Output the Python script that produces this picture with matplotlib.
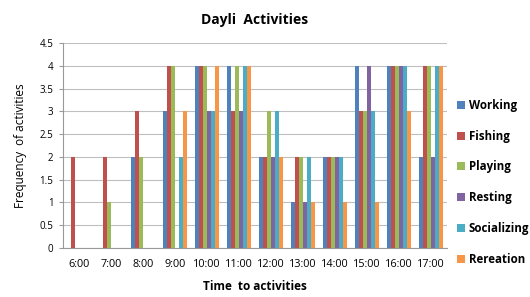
import numpy as np
import matplotlib.pyplot as plt

times = ['6:00', '7:00', '8:00', '9:00', '10:00', '11:00', '12:00',
         '13:00', '14:00', '15:00', '16:00', '17:00']
working     = [0, 0, 2, 3, 4, 4, 2, 1, 2, 4, 4, 2]
fishing     = [2, 2, 3, 4, 4, 3, 2, 2, 2, 3, 4, 4]
playing     = [0, 1, 2, 4, 4, 4, 3, 2, 2, 3, 4, 4]
resting     = [0, 0, 0, 0, 3, 3, 2, 1, 2, 4, 4, 2]
socializing = [0, 0, 0, 2, 3, 4, 3, 2, 2, 3, 4, 4]
rereation   = [0, 0, 0, 3, 4, 4, 2, 1, 1, 1, 3, 4]

series = [('Working', working), ('Fishing', fishing), ('Playing', playing),
          ('Resting', resting), ('Socializing', socializing), ('Rereation', rereation)]
colors = ['#4F81BD', '#C0504D', '#9BBB59', '#8064A2', '#4BACC6', '#F79646']

plt.rcParams['font.family'] = ['Open Sans', 'DejaVu Sans']

fig = plt.figure(figsize=(5.3, 2.97), dpi=100)
ax = fig.add_axes([0.119, 0.165, 0.724, 0.69])

x = np.arange(len(times))
w = 0.125
for i, (name, vals) in enumerate(series):
    ax.bar(x + (i - 2.5) * w, vals, width=w, color=colors[i], label=name, zorder=3)

ax.set_xlim(-0.5, len(times) - 0.5)
ax.set_ylim(0, 4.5)
ax.set_yticks(np.arange(0, 4.51, 0.5))
ax.set_yticklabels(['0', '0.5', '1', '1.5', '2', '2.5', '3', '3.5', '4', '4.5'])
ax.set_xticks(x)
ax.set_xticklabels(times)
ax.grid(axis='y', color='#BFBFBF', linewidth=0.8, zorder=0)
for s in ['top', 'right']:
    ax.spines[s].set_visible(False)
ax.spines['left'].set_color('#999999')
ax.spines['bottom'].set_color('#999999')
ax.tick_params(axis='y', labelsize=7, length=3, color='#999999', pad=4)
ax.tick_params(axis='x', labelsize=7.8, length=0, pad=8)

ax.set_title('Dayli  Activities', fontsize=10, fontweight='bold', pad=14)
ax.set_xlabel('Time  to activities', fontsize=8.5, fontweight='bold', labelpad=7)
ax.set_ylabel('Frequency  of activities', fontsize=8.5, labelpad=9)

ax.legend(loc='center left', bbox_to_anchor=(1.0, 0.32), frameon=False,
          handlelength=0.7, handleheight=0.7, handletextpad=0.3,
          labelspacing=1.55, prop={'weight': 'bold', 'size': 8.3})

fig.savefig('out.png', dpi=100)
